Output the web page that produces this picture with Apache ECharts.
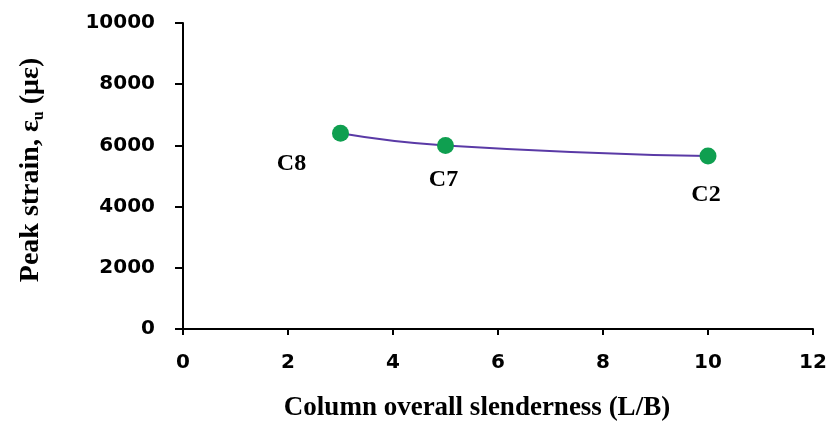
<!DOCTYPE html>
<html>
<head>
<meta charset="utf-8">
<script src="https://cdn.jsdelivr.net/npm/echarts@6/dist/echarts.min.js"></script>
<style>
html,body{margin:0;padding:0;background:#fff;}
#chart{width:833px;height:423px;}
</style>
</head>
<body>
<div id="chart"></div>
<script>
// Data
var specimens = ['C8', 'C7', 'C2'];
var slenderness = [3, 5, 10];
var peakStrain = [6400, 6000, 5650];
var xTicks = [0, 2, 4, 6, 8, 10, 12];
var yTicks = [0, 2000, 4000, 6000, 8000, 10000];

// Label styling (kept apart from data)
var labelOffsets = [[-49, 2], [-2, 6], [-2, 10]];

var chart = echarts.init(document.getElementById('chart'));
var points = slenderness.map(function (x, i) { return [x, peakStrain[i]]; });
var scatterData = points.map(function (p, i) {
  return {
    value: p,
    name: specimens[i],
    label: { offset: labelOffsets[i] }
  };
});

var tickFont = { fontFamily: 'DejaVu Sans', fontWeight: 'bold', fontSize: 20, color: '#000' };
var axisLineStyle = { color: '#000', width: 2 };

chart.setOption({
  animation: false,
  backgroundColor: '#fff',
  grid: { left: 183, right: 20, top: 23, bottom: 94, containLabel: false, outerBoundsMode: 'none' },
  xAxis: {
    type: 'value',
    min: xTicks[0], max: xTicks[xTicks.length - 1], interval: 2,
    axisLine: { show: true, lineStyle: axisLineStyle, onZero: false },
    axisTick: { show: true, inside: false, length: 6, lineStyle: axisLineStyle },
    splitLine: { show: false },
    axisLabel: Object.assign({ margin: 24, formatter: function (v) { return String(v); } }, tickFont),
    name: 'Column overall slenderness (L/B)',
    nameLocation: 'middle',
    nameGap: 66,
    nameTextStyle: { fontFamily: 'Liberation Serif', fontWeight: 'bold', fontSize: 27, color: '#000', padding: [0, 42, 0, 0] }
  },
  yAxis: {
    type: 'value',
    min: yTicks[0], max: yTicks[yTicks.length - 1], interval: 2000,
    axisLine: { show: true, lineStyle: axisLineStyle, onZero: false },
    axisTick: { show: true, inside: false, length: 8, lineStyle: axisLineStyle },
    splitLine: { show: false },
    axisLabel: Object.assign({ margin: 28, formatter: function (v) { return String(v); } }, tickFont),
    name: '{m|Peak strain, ε}{s|u}{m| (με)}',
    nameLocation: 'middle',
    nameGap: 136,
    nameTextStyle: {
      padding: [0, 0, 0, 12],
      rich: {
        m: { fontFamily: 'Liberation Serif', fontWeight: 'bold', fontSize: 28, color: '#000', lineHeight: 32, verticalAlign: 'middle' },
        s: { fontFamily: 'Liberation Serif', fontWeight: 'bold', fontSize: 16, color: '#000', lineHeight: 32, verticalAlign: 'bottom' }
      }
    }
  },
  series: [
    {
      type: 'line',
      data: points,
      smooth: 0.5,
      showSymbol: false,
      symbol: 'none',
      lineStyle: { color: '#5a3aa6', width: 2 },
      z: 2
    },
    {
      type: 'scatter',
      data: scatterData,
      symbol: 'circle',
      symbolSize: 17,
      itemStyle: { color: '#0f9f50', opacity: 1 },
      label: {
        show: true,
        position: 'bottom',
        distance: 8,
        formatter: function (p) { return p.name; },
        fontFamily: 'Liberation Serif',
        fontWeight: 'bold',
        fontSize: 24,
        color: '#000',
        opacity: 1
      },
      z: 3
    }
  ]
});
</script>
</body>
</html>
